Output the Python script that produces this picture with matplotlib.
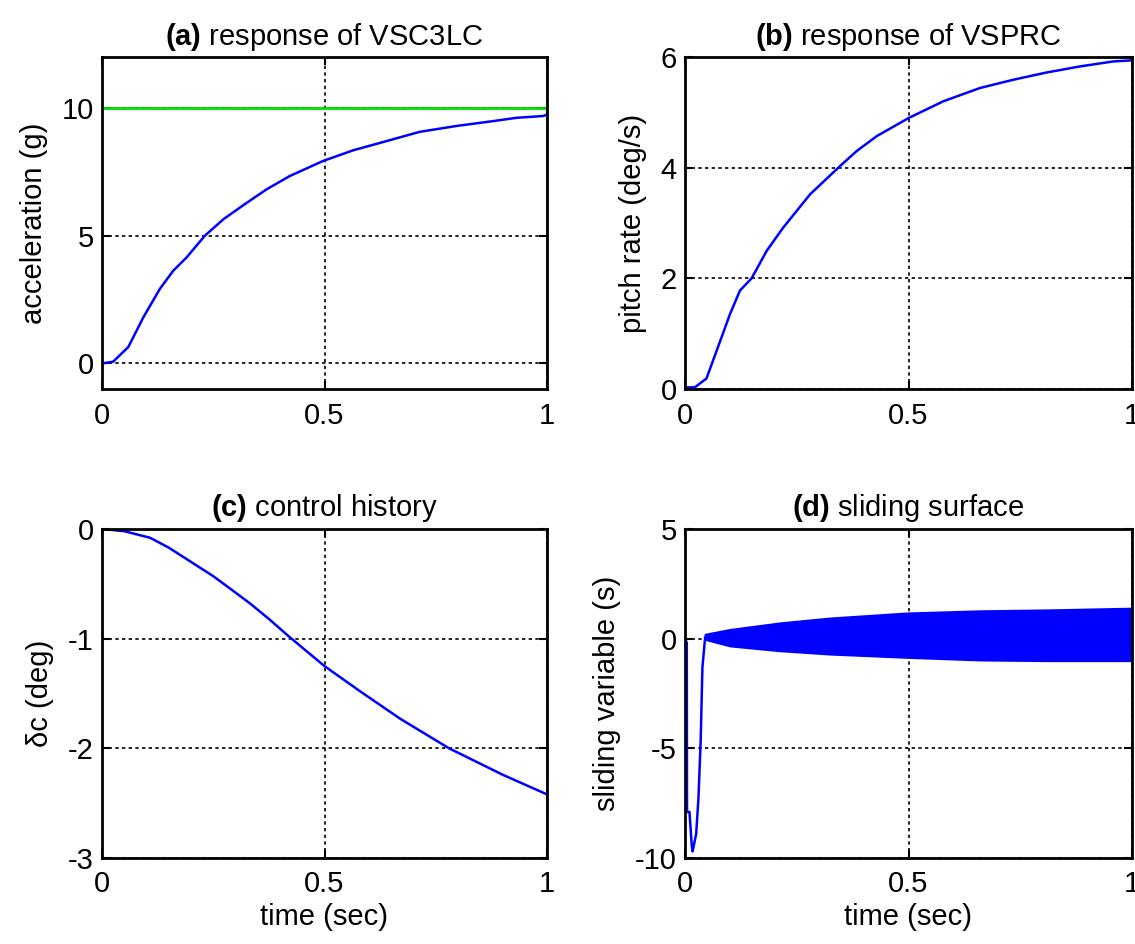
import matplotlib
matplotlib.use("Agg")
import matplotlib.pyplot as plt

plt.rcParams['font.family'] = ['Liberation Sans', 'DejaVu Sans']
plt.rcParams['axes.unicode_minus'] = False
plt.rcParams['mathtext.fontset'] = 'custom'
plt.rcParams['mathtext.rm'] = 'Liberation Sans'
plt.rcParams['mathtext.bf'] = 'Liberation Sans:bold'

# ---------------- data ----------------
# (a) acceleration response
t_a = [0.0, 0.025, 0.059, 0.093, 0.130, 0.160, 0.190, 0.231, 0.273, 0.321,
       0.370, 0.422, 0.497, 0.565, 0.640, 0.714, 0.797, 0.879, 0.932, 0.992, 1.0]
acc = [0.0, 0.07, 0.64, 1.81, 2.92, 3.63, 4.15, 5.0, 5.65, 6.24,
       6.82, 7.34, 7.93, 8.35, 8.71, 9.07, 9.30, 9.49, 9.62, 9.69, 9.75]
acc_cmd_t = [0.0, 1.0]
acc_cmd = [10.0, 10.0]

# (b) pitch rate response
t_b = [0.0, 0.022, 0.048, 0.063, 0.082, 0.101, 0.123, 0.149, 0.183, 0.220,
       0.253, 0.280, 0.347, 0.384, 0.429, 0.501, 0.578, 0.660, 0.735, 0.809,
       0.884, 0.958, 1.0]
pitch = [0.03, 0.03, 0.19, 0.52, 0.94, 1.36, 1.78, 2.0, 2.50, 2.92,
         3.25, 3.52, 4.03, 4.30, 4.57, 4.90, 5.20, 5.44, 5.59, 5.72,
         5.83, 5.92, 5.94]

# (c) control history
t_c = [0.0, 0.05, 0.108, 0.15, 0.2, 0.25, 0.3, 0.333, 0.375, 0.42, 0.5,
       0.58, 0.67, 0.78, 0.9, 1.0]
delta_c = [0.0, -0.02, -0.08, -0.17, -0.30, -0.43, -0.58, -0.68, -0.82, -0.98,
           -1.25, -1.48, -1.73, -2.0, -2.24, -2.42]

# (d) sliding surface: initial transient
t_d = [0.0, 0.004, 0.0045, 0.010, 0.015, 0.017, 0.025, 0.030, 0.035, 0.039, 0.045]
s_d = [0.0, -0.18, -7.9, -7.9, -9.4, -9.7, -8.9, -7.3, -4.7, -1.3, 0.05]
# (d) chattering band envelopes
t_band = [0.045, 0.101, 0.213, 0.324, 0.496, 0.660, 0.809, 1.0]
s_upper = [0.2, 0.42, 0.72, 0.94, 1.17, 1.27, 1.31, 1.39]
s_lower = [-0.03, -0.33, -0.55, -0.70, -0.85, -0.97, -1.0, -1.0]

x_ticks = [0, 0.5, 1]
x_ticklabels = ['0', '0.5', '1']

titles = [r"$\mathbf{(a)}$ response of VSC3LC",
          r"$\mathbf{(b)}$ response of VSPRC",
          r"$\mathbf{(c)}$ control history",
          r"$\mathbf{(d)}$ sliding surface"]
ylabels = ["acceleration (g)", "pitch rate (deg/s)", r"δc (deg)", "sliding variable (s)"]

# ---------------- figure ----------------
W, H = 1135, 944
fig = plt.figure(figsize=(W / 100, H / 100), dpi=100)

def px_axes(l, r, t, b):
    return fig.add_axes([l / W, 1 - b / H, (r - l) / W, (b - t) / H])

axs = [px_axes(102, 547, 57, 389),
       px_axes(685, 1132, 57, 389),
       px_axes(102, 547, 529, 858),
       px_axes(685, 1132, 529, 858)]

blue = '#0000ff'
FS = 21

ax = axs[0]
ax.plot(acc_cmd_t, acc_cmd, color='#00dd00', lw=2)
ax.plot(t_a, acc, color=blue, lw=1.8)
ax.set_ylim(-1, 12)
ax.set_yticks([0, 5, 10])

ax = axs[1]
ax.plot(t_b, pitch, color=blue, lw=1.8)
ax.set_ylim(0, 6)
ax.set_yticks([0, 2, 4, 6])

ax = axs[2]
ax.plot(t_c, delta_c, color=blue, lw=1.8)
ax.set_ylim(-3, 0)
ax.set_yticks([0, -1, -2, -3])

ax = axs[3]
ax.fill_between(t_band, s_lower, s_upper, color=blue, lw=1.5, edgecolor=blue)
ax.plot(t_d, s_d, color=blue, lw=1.8)
ax.set_ylim(-10, 5)
ax.set_yticks([5, 0, -5, -10])

for i, ax in enumerate(axs):
    ax.set_xlim(0, 1)
    ax.set_xticks(x_ticks)
    ax.set_xticklabels(x_ticklabels)
    ax.grid(True, color='black', linestyle=(0, (2, 2)), linewidth=1.2)
    ax.set_axisbelow(True)
    ax.tick_params(direction='in', length=6, width=1.5, top=True, right=True,
                   labelsize=FS, colors='black')
    ax.tick_params(axis='x', pad=9)
    ax.tick_params(axis='y', pad=6)
    for sp in ax.spines.values():
        sp.set_linewidth(2)
        sp.set_color('black')
    ax.set_title(titles[i], fontsize=FS, pad=9)
    ax.set_ylabel(ylabels[i], fontsize=FS, labelpad=10)
    if i >= 2:
        ax.set_xlabel("time (sec)", fontsize=FS, labelpad=3)

fig.savefig("out.png", dpi=100)
